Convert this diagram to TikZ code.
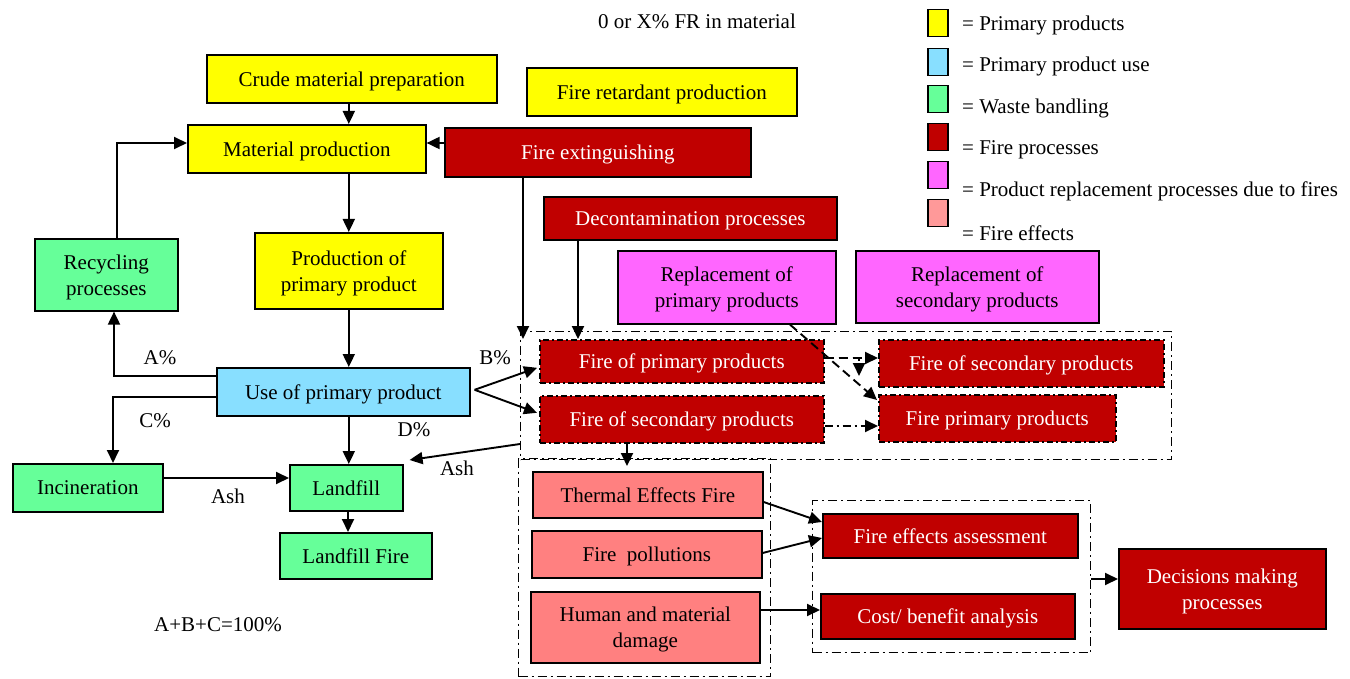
\documentclass[tikz,border=0pt]{standalone}
\usepackage{fontspec}
\setmainfont{Liberation Serif}
\usetikzlibrary{arrows.meta,calc}
\definecolor{cyel}{HTML}{FFFF00}
\definecolor{cblue}{HTML}{88DFFF}
\definecolor{cgreen}{HTML}{66FF99}
\definecolor{cred}{HTML}{C00000}
\definecolor{cmag}{HTML}{FF66FF}
\definecolor{csal}{HTML}{FF8080}
\definecolor{csalL}{HTML}{FF9999}
\begin{document}
\begin{tikzpicture}[x=1pt,y=-1pt,
  font=\fontsize{21}{26}\selectfont,
  bx/.style={draw=black, line width=1.6pt, inner sep=0pt, anchor=north west, align=center, text depth=0pt},
  yel/.style={bx, fill=cyel},
  blu/.style={bx, fill=cblue},
  grn/.style={bx, fill=cgreen},
  red/.style={bx, fill=cred, text=white},
  redd/.style={bx, fill=cred, text=white, dash pattern=on 6pt off 3pt on 2pt off 3pt},
  mag/.style={bx, fill=cmag},
  sal/.style={bx, fill=csal},
  grp/.style={draw=black, line width=1.3pt, inner sep=0pt, anchor=north west, dash pattern=on 9pt off 4pt on 2pt off 4pt},
  arr/.style={-{Triangle[length=13pt,width=12pt]}, line width=1.9pt},
  darr/.style={arr, dash pattern=on 9pt off 5pt},
  ddarr/.style={arr, dash pattern=on 8pt off 4pt on 2pt off 4pt},
  leg/.style={draw=black, line width=1.5pt, minimum width=20pt, minimum height=27pt, inner sep=0pt, anchor=north west},
  legt/.style={anchor=west, inner sep=0pt},
  lab/.style={inner sep=0pt}]
\useasboundingbox (0,0) rectangle (1350,679);

% group boxes
\node[grp, minimum width=651pt, minimum height=128pt] (G1) at (520,331) {};
\node[grp, minimum width=252pt, minimum height=218pt] (G2) at (518,458) {};
\node[grp, minimum width=278pt, minimum height=152pt] (G3) at (812,500) {};

% boxes
\node[yel, minimum width=290pt, minimum height=48pt] (crude) at (206,54) {Crude material preparation};
\node[yel, minimum width=238pt, minimum height=48pt] (mp) at (187,124) {Material production};
\node[yel, minimum width=270pt, minimum height=48pt] (fr) at (526,67) {Fire retardant production};
\node[red, minimum width=306pt, minimum height=49pt] (fe) at (444,127) {Fire extinguishing};
\node[red, minimum width=293pt, minimum height=43pt] (dec) at (543,196) {Decontamination processes};
\node[mag, minimum width=218pt, minimum height=73pt] (rpp) at (617,250) {Replacement of\\primary products};
\node[mag, minimum width=243pt, minimum height=72pt] (rsp) at (855,250) {Replacement of\\secondary products};
\node[grn, minimum width=143pt, minimum height=72pt] (rec) at (34,238) {Recycling\\processes};
\node[yel, minimum width=188pt, minimum height=76pt] (pp) at (254,232) {Production of\\primary product};
\node[blu, minimum width=253pt, minimum height=48pt] (use) at (216,367) {Use of primary product};
\node[grn, minimum width=150pt, minimum height=48pt] (inc) at (12,463) {Incineration};
\node[grn, minimum width=113pt, minimum height=46pt] (lf) at (289,464) {Landfill};
\node[grn, minimum width=152pt, minimum height=46pt] (lff) at (279,532) {Landfill Fire};
\node[redd, minimum width=284pt, minimum height=43pt] (fpp) at (539,339) {Fire of primary products};
\node[redd, minimum width=284pt, minimum height=47pt] (fsp) at (539,395) {Fire of secondary products};
\node[redd, minimum width=285pt, minimum height=47pt] (fsp2) at (878,339) {Fire of secondary products};
\node[redd, minimum width=237pt, minimum height=47pt] (fpr2) at (878,394) {Fire primary products};
\node[sal, minimum width=230pt, minimum height=46pt] (th) at (532,471) {Thermal Effects Fire};
\node[sal, minimum width=230pt, minimum height=47pt] (po) at (531,530) {Fire\ \ pollutions};
\node[sal, minimum width=229pt, minimum height=71pt] (hum) at (530,591) {Human and material\\damage};
\node[red, minimum width=255pt, minimum height=44pt] (fea) at (822,513) {Fire effects assessment};
\node[red, minimum width=254pt, minimum height=45pt] (cba) at (820,593) {Cost/ benefit analysis};
\node[red, minimum width=207pt, minimum height=80pt] (dm) at (1118,548) {Decisions making\\processes};

% texts
\node[lab] (title) at (697,21) {0 or X\% FR in material};
\node[lab] (abc) at (218,625) {A+B+C=100\%};
\node[lab] (la) at (160,358) {A\%};
\node[lab] (lc) at (155,421) {C\%};
\node[lab] (ld) at (414,430) {D\%};
\node[lab] (lb) at (495,358) {B\%};
\node[lab] (lash1) at (228,496) {Ash};
\node[lab] (lash2) at (457,468) {Ash};

% legend
\node[leg, fill=cyel] (k1) at (927,9) {};
\node[leg, fill=cblue] (k2) at (927,48) {};
\node[leg, fill=cgreen] (k3) at (927,85) {};
\node[leg, fill=cred] (k4) at (927,123) {};
\node[leg, fill=cmag] (k5) at (927,161) {};
\node[leg, fill=csalL] (k6) at (927,199) {};
\node[legt] (t1) at (962,25) {= Primary products};
\node[legt] (t2) at (962,66) {= Primary product use};
\node[legt] (t3) at (962,108) {= Waste bandling};
\node[legt] (t4) at (962,150) {= Fire processes};
\node[legt] (t5) at (962,191) {= Product replacement processes due to fires};
\node[legt] (t6) at (962,233) {= Fire effects};

% connectors
\draw[arr] (crude.south -| pp.north) -- (mp.north -| pp.north);
\draw[arr] (mp.south -| pp.north) -- (pp.north);
\draw[arr] (fe.west |- 0,143) -- (mp.east |- 0,143);
\draw[arr] (rec.north -| 117,0) |- (mp.west |- 0,143);
\draw[arr] (use.west |- 0,376) -| (rec.south -| 114,0);
\draw[arr] (use.west |- 0,397) -| (inc.north -| 113,0);
\draw[arr] (pp.south) -- (use.north -| pp.south);
\draw[arr] (use.south -| pp.south) -- (lf.north -| pp.south);
\draw[arr] (lf.south -| 348,0) -- (lff.north -| 348,0);
\draw[arr] (inc.east |- 0,478) -- (lf.west |- 0,478);
\draw[arr] ($(G1.north west)+(0,113)$) -- ($(lf.north east)+(6,-4)$);
\draw[arr] ($(use.east)+(4,-2)$) -- ($(fpp.west)+(-2,6.5)$);
\draw[arr] ($(use.east)+(4,-2)$) -- ($(fsp.west)+(-2,-6.5)$);
\draw[arr] (fe.south -| 523,0) -- ($(G1.north west)+(3,8)$);
\draw[arr] (dec.south -| 578,0) -- (fpp.north -| 578,0);
\draw[arr] (fsp.south -| 627,0) -- ($(G2.north -| 627,0)+(0,8)$);
\draw[arr] (th.east |- 0,502) -- (fea.west |- 0,522);
\draw[arr] (po.east |- 0,553) -- (fea.west |- 0,538);
\draw[arr] (hum.east |- 0,610) -- (cba.west |- 0,610);
\draw[arr] (G3.east |- 0,579) -- (dm.west |- 0,579);
\draw[darr] (fpp.east |- 0,358) -- (fsp2.west |- 0,358);
\draw[darr] (fpp.east |- 0,358) -| (859,376);
\draw[darr] (rpp.south -| 790,0) -- ($(fpr2.north west)+(-1,6)$);
\draw[ddarr] (fsp.east |- 0,426) -- (fpr2.west |- 0,426);
\end{tikzpicture}
\end{document}
